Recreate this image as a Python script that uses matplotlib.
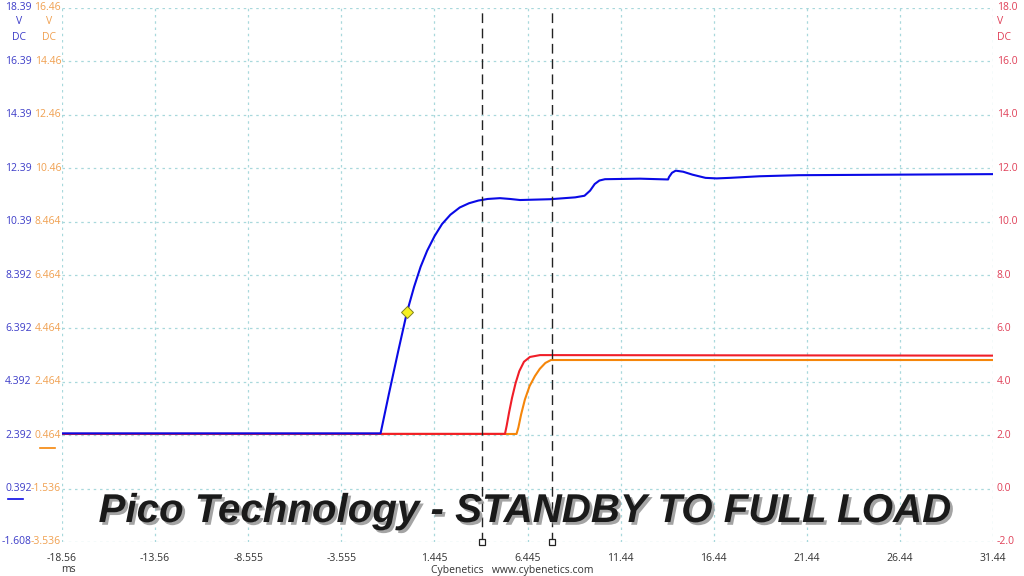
import numpy as np
import matplotlib
matplotlib.use("Agg")
import matplotlib.pyplot as plt
import matplotlib.patheffects as pe

# time axis (ms)
X_MIN, X_MAX = -18.56, 31.44
X_TICKS = [-18.56, -13.56, -8.555, -3.555, 1.445, 6.445, 11.44, 16.44, 21.44, 26.44, 31.44]
X_LABELS = ["-18.56", "-13.56", "-8.555", "-3.555", "1.445", "6.445", "11.44", "16.44",
            "21.44", "26.44", "31.44"]

# channel A (blue), volts on its own scale
blue_t = [-18.56, -1.45, -1.0, -0.5, -0.03, 0.35, 0.7, 1.05, 1.45, 1.85, 2.3, 2.8, 3.3, 3.8,
          4.3, 4.96, 5.5, 6.04, 7.65, 9.0, 9.5, 9.8, 10.05, 10.3, 10.6, 12.48, 13.99, 14.04,
          14.2, 14.4, 14.8, 15.3, 16.0, 16.6, 17.3, 18.9, 21.0, 31.44]
blue_v = [2.46, 2.46, 3.95, 5.55, 7.01, 7.95, 8.7, 9.3, 9.85, 10.3, 10.65, 10.92, 11.08,
          11.18, 11.24, 11.27, 11.24, 11.20, 11.23, 11.30, 11.36, 11.55, 11.80, 11.93, 11.98,
          12.00, 11.97, 12.06, 12.22, 12.30, 12.26, 12.15, 12.03, 12.01, 12.03, 12.09, 12.13,
          12.17]

# channel B (red), volts
red_t = [-18.56, 5.23, 5.32, 5.45, 5.61, 5.8, 6.0, 6.25, 6.57, 7.11, 31.44]
red_v = [2.05, 2.05, 2.35, 2.85, 3.4, 3.95, 4.4, 4.75, 4.93, 5.0, 4.98]

# channel C (orange), volts
orange_t = [-18.56, 5.85, 5.95, 6.1, 6.3, 6.55, 6.84, 7.1, 7.4, 7.7, 31.44]
orange_v = [0.51, 0.51, 0.75, 1.25, 1.8, 2.3, 2.68, 2.95, 3.17, 3.28, 3.28]

# axis labels per channel
red_ticks = [18.0, 16.0, 14.0, 12.0, 10.0, 8.0, 6.0, 4.0, 2.0, 0.0, -2.0]
blue_labels = ["18.39", "16.39", "14.39", "12.39", "10.39", "8.392", "6.392", "4.392", "2.392", "0.392", "-1.608"]
orange_labels = ["16.46", "14.46", "12.46", "10.46", "8.464", "6.464", "4.464", "2.464", "0.464", "-1.536", "-3.536"]

cursors = [4.0, 7.76]
marker_t, marker_v = -0.03, 7.01

BLUE_OFF = 0.392   # blue volts -> common scale
ORANGE_OFF = -1.536

BLUE = "#0a0ae6"
RED = "#f01e28"
ORANGE = "#f5860a"
BLUE_TXT = "#3c3cc8"
ORANGE_TXT = "#f0a050"
RED_TXT = "#e04058"
GRID = "#a8d8dc"

fig = plt.figure(figsize=(10.24, 5.76), dpi=100)
ax = fig.add_axes([62 / 1024, 1 - 542 / 576, (993 - 62) / 1024, (542 - 8) / 576])
ax.set_xlim(X_MIN, X_MAX)
ax.set_ylim(-2.0, 18.0)
for s in ax.spines.values():
    s.set_visible(False)
ax.set_xticks(X_TICKS)
ax.set_yticks(red_ticks)
ax.grid(True, color=GRID, ls=(0, (2, 3)), lw=0.9)
ax.tick_params(length=0, labelleft=False, labelbottom=False)

ax.plot(orange_t, np.array(orange_v) - ORANGE_OFF, color=ORANGE, lw=1.5, zorder=3)
ax.plot(red_t, red_v, color=RED, lw=1.5, zorder=4)
ax.plot(blue_t, np.array(blue_v) - BLUE_OFF, color=BLUE, lw=1.5, zorder=5)
ax.plot([marker_t], [marker_v - BLUE_OFF], marker="D", ms=6.5, mfc="#f5f020",
        mec="#808020", mew=0.7, zorder=6)

for c in cursors:
    ax.axvline(c, color="#222222", lw=1.0, ls=(0, (7, 4)), zorder=6)
    ax.plot([c], [-2.0], marker="s", ms=5, mfc="white", mec="#222222", mew=0.9,
            clip_on=False, zorder=7)

tfont = dict(family="Open Sans", fontsize=7.5)
for yv, bl, ol in zip(red_ticks, blue_labels, orange_labels):
    ax.text(-0.0325, yv, bl, transform=ax.get_yaxis_transform(), ha="right", va="center",
            color=BLUE_TXT, **tfont)
    ax.text(-0.001, yv, ol, transform=ax.get_yaxis_transform(), ha="right", va="center",
            color=ORANGE_TXT, **tfont)
    ax.text(1.004, yv, f"{yv:.1f}", transform=ax.get_yaxis_transform(), ha="left", va="center",
            color=RED_TXT, **tfont)

for lab, yy in (("V", 22), ("DC", 37)):
    fy = 1 - yy / 576
    fig.text(19 / 1024, fy, lab, ha="center", va="center", color=BLUE_TXT, **tfont)
    fig.text(49 / 1024, fy, lab, ha="center", va="center", color=ORANGE_TXT, **tfont)
    fig.text(997 / 1024, fy, lab, ha="left", va="center", color=RED_TXT, **tfont)

# zero-level markers
ax.plot([-0.058, -0.042], [0 - BLUE_OFF] * 2, transform=ax.get_yaxis_transform(),
        color=BLUE, lw=1.2, clip_on=False)
ax.plot([-0.024, -0.008], [0 - ORANGE_OFF] * 2, transform=ax.get_yaxis_transform(),
        color=ORANGE, lw=1.2, clip_on=False)

for t, lab in zip(X_TICKS, X_LABELS):
    ax.text(t, -0.02, lab, transform=ax.get_xaxis_transform(), ha="center", va="top",
            color="#333333", **tfont)
fig.text(68 / 1024, 1 - 570 / 576, "ms", ha="center", va="center", color="#333333", **tfont)
fig.text(512 / 1024, 1 - 570 / 576, "Cybenetics   www.cybenetics.com", ha="center",
         va="center", color="#333333", **tfont)

ax.text(0.497, 0.058, "Pico Technology - STANDBY TO FULL LOAD", transform=ax.transAxes,
        ha="center", va="center", family="Liberation Sans", fontweight="bold",
        style="italic", fontsize=29, color="#1a1a1a", zorder=8,
        path_effects=[pe.SimplePatchShadow(offset=(2, -2), shadow_rgbFace="#9a9a9a", alpha=0.9),
                      pe.Normal()])

fig.savefig("out.png", dpi=100)
